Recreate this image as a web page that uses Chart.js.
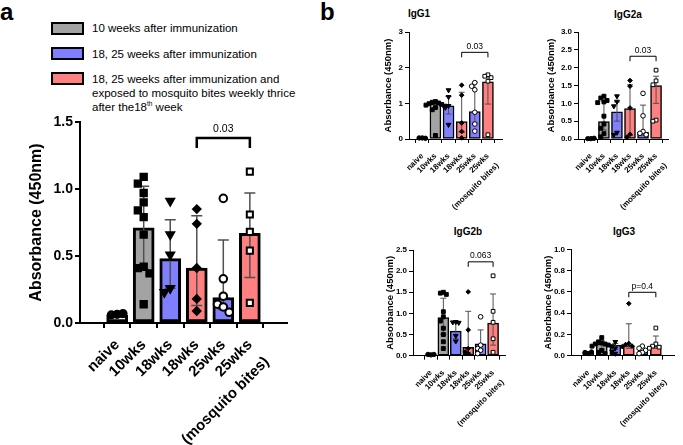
<!DOCTYPE html>
<html>
<head>
<meta charset="utf-8">
<script src="https://cdn.jsdelivr.net/npm/chart.js@4.4.1/dist/chart.umd.min.js"></script>
<style>
  body { margin: 0; background: #fff; width: 683px; height: 445px; position: relative; overflow: hidden;
         font-family: 'Liberation Sans', Arial, Helvetica, sans-serif; color: #000; }
  canvas { position: absolute; }
  .letter { position: absolute; font-size: 24px; font-weight: bold; line-height: 24px; }
  .sw { position: absolute; left: 51px; width: 29px; height: 9px; border: 2px solid #000; }
  .lt { position: absolute; left: 92px; font-size: 11.5px; line-height: 14px; white-space: nowrap; }
  .lt sup { font-size: 6.5px; line-height: 0; }
  .ttl { position: absolute; width: 80px; margin-left: -40px; text-align: center; font-size: 10px; font-weight: bold; line-height: 12px; }
</style>
</head>
<body>
<div class="letter" style="left:0;top:0">a</div>
<div class="letter" style="left:320px;top:0">b</div>

<div class="sw" style="top:22px;background:#a3a3a3"></div>
<div class="lt" style="top:21px">10 weeks after immunization</div>
<div class="sw" style="top:47px;background:#8080ff"></div>
<div class="lt" style="top:47px">18, 25 weeks after immunization</div>
<div class="sw" style="top:72px;background:#ff8080"></div>
<div class="lt" style="top:72px">18, 25 weeks after immunization and<br>exposed to mosquito bites weekly thrice<br>after the18<sup>th</sup> week</div>

<div class="ttl" style="left:419px;top:8px">IgG1</div>
<div class="ttl" style="left:628px;top:9px">IgG2a</div>
<div class="ttl" style="left:468px;top:226px">IgG2b</div>
<div class="ttl" style="left:624px;top:226px">IgG3</div>

<canvas id="chartA" width="300" height="335" style="left:0;top:110px"></canvas>
<canvas id="chartG1" width="145" height="215" style="left:370px;top:0"></canvas>
<canvas id="chartG2a" width="163" height="215" style="left:520px;top:0"></canvas>
<canvas id="chartG2b" width="150" height="230" style="left:370px;top:215px"></canvas>
<canvas id="chartG3" width="163" height="230" style="left:520px;top:215px"></canvas>

<script>
const categories = ['naive', '10wks', '18wks', '18wks', '25wks', ['25wks', '(mosquito bites)']];

// panel a
const aMeans = [0.06, 0.71, 0.48, 0.41, 0.19, 0.67];
const aLow = [0.05, 0.40, 0.26, 0.13, 0.10, 0.34];
const aHigh = [0.07, 1.02, 0.77, 0.80, 0.62, 0.97];
const aPoints = [
  [0.065, 0.06, 0.07],
  [1.09, 1.04, 0.97, 0.90, 0.84, 0.79, 0.66, 0.42, 0.41, 0.37, 0.14],
  [0.91, 0.66, 0.51, 0.26, 0.23],
  [0.85, 0.74, 0.41, 0.18, 0.09],
  [0.93, 0.33, 0.20, 0.14, 0.12, 0.08],
  [1.13, 0.81, 0.68, 0.54, 0.15]
];
const aTicks = [0, 0.5, 1.0, 1.5];

// IgG1
const g1Means = [0.03, 0.99, 0.93, 0.49, 0.77, 1.60];
const g1Low = [0.02, 0.88, 0.70, 0.19, 0.45, 0.98];
const g1High = [0.04, 1.04, 1.19, 1.31, 1.59, 1.78];
const g1Points = [
  [0.03, 0.03, 0.02],
  [1.05, 1.03, 1.01, 0.99, 0.97, 0.95, 0.92, 0.88, 0.82, 0.10],
  [1.37, 1.18, 0.93, 0.88, 0.40],
  [1.51, 1.23, 0.45, 0.21, 0.03],
  [1.58, 1.48, 1.38, 0.75, 0.42, 0.22],
  [1.80, 1.76, 1.72, 1.62, 0.12]
];
const g1Ticks = [0, 1, 2, 3];

// IgG2a
const g2aMeans = [0.01, 0.49, 0.76, 0.85, 0.19, 1.50];
const g2aLow = [0.0, 0.25, 0.50, 0.10, 0.10, 1.00];
const g2aHigh = [0.02, 1.05, 1.04, 1.52, 0.95, 1.76];
const g2aPoints = [
  [0.01, 0.01, 0.02],
  [1.20, 1.15, 1.08, 1.04, 1.02, 0.64, 0.42, 0.30, 0.15, 0.06],
  [1.20, 1.05, 0.92, 0.18, 0.12],
  [1.64, 1.48, 0.87, 0.13, 0.05],
  [1.28, 0.65, 0.21, 0.16, 0.12],
  [1.93, 1.63, 1.52, 0.53, 0.50]
];
const g2aTicks = [0, 0.5, 1.0, 1.5, 2.0, 2.5, 3.0];

// IgG2b
const g2bMeans = [0.02, 0.90, 0.58, 0.20, 0.28, 0.77];
const g2bLow = [0.01, 0.50, 0.40, 0.07, 0.15, 0.25];
const g2bHigh = [0.03, 1.36, 0.79, 1.05, 0.61, 1.46];
const g2bPoints = [
  [0.02, 0.03, 0.03],
  [1.50, 1.48, 1.45, 1.04, 0.92, 0.82, 0.65, 0.50, 0.33, 0.17],
  [0.80, 0.79, 0.78, 0.47, 0.34],
  [1.51, 0.61, 0.17, 0.09, 0.05],
  [0.92, 0.25, 0.17, 0.13, 0.05],
  [1.89, 1.05, 0.79, 0.40, 0.08]
];
const g2bTicks = [0, 0.5, 1.0, 1.5, 2.0, 2.5];

// IgG3
const g3Means = [0.03, 0.11, 0.10, 0.095, 0.035, 0.10];
const g3Low = [0.02, 0.06, 0.06, 0.07, 0.02, 0.07];
const g3High = [0.035, 0.14, 0.115, 0.30, 0.05, 0.185];
const g3Points = [
  [0.02, 0.03, 0.035],
  [0.17, 0.13, 0.12, 0.11, 0.11, 0.10, 0.09, 0.05, 0.03, 0.02],
  [0.13, 0.09, 0.07, 0.04, 0.02],
  [0.49, 0.115, 0.105, 0.09, 0.085],
  [0.09, 0.07, 0.05, 0.03, 0.02],
  [0.26, 0.11, 0.09, 0.08, 0.07]
];
const g3Ticks = [0, 0.2, 0.4, 0.6, 0.8, 1.0];

// comparison brackets: [from, to, height, label]
const aBracket = [3, 5, 1.38, '0.03'];
const g1Bracket = [3, 5, 2.43, '0.03'];
const g2aBracket = [3, 5, 2.32, '0.03'];
const g2bBracket = [3, 5, 2.22, '0.063'];
const g3Bracket = [3, 5, 0.596, 'p=0.4'];

const FONT = "'Liberation Sans', Arial, Helvetica, sans-serif";
Chart.defaults.font.family = FONT;
Chart.defaults.color = '#000';

const fills = ['#ffffff', '#a3a3a3', '#8080ff', '#ff8080', '#8080ff', '#ff8080'];
const markers = [
  { style: 'circle', rot: 0, fill: '#000', k: 1 },
  { style: 'rect', rot: 0, fill: '#000', k: 1.25 },
  { style: 'triangle', rot: 180, fill: '#000', k: 1.25 },
  { style: 'rectRot', rot: 0, fill: '#000', k: 1.05 },
  { style: 'circle', rot: 0, fill: '#fff', k: 1.05 },
  { style: 'rect', rot: 0, fill: '#fff', k: 1.2 }
];

// spread points sideways when they would overlap (like a scatter dot plot)
function spread(vals, thr, step) {
  const placed = [];
  return vals.map(v => {
    for (const k of [0, -1, 1, -2, 2, -3, 3]) {
      const dx = k * step;
      const hit = placed.some(p => Math.abs(p.dx - dx) < step * 0.9 && Math.abs(p.v - v) < thr);
      if (!hit) { placed.push({ dx, v }); return dx; }
    }
    placed.push({ dx: 0, v });
    return 0;
  });
}

function errorPlugin(p) {
  return {
    id: 'errorBars',
    afterDatasetDraw(chart, args) {
      if (args.index !== 0) return;
      const { ctx, scales: { x, y } } = chart;
      ctx.save();
      ctx.strokeStyle = '#505050';
      ctx.lineWidth = p.ew;
      p.low.forEach((lo, i) => {
        const px = x.getPixelForValue(i);
        const y1 = y.getPixelForValue(lo);
        const y2 = y.getPixelForValue(p.high[i]);
        ctx.beginPath();
        ctx.moveTo(px, y1); ctx.lineTo(px, y2);
        ctx.moveTo(px - p.cap, y1); ctx.lineTo(px + p.cap, y1);
        ctx.moveTo(px - p.cap, y2); ctx.lineTo(px + p.cap, y2);
        ctx.stroke();
      });
      ctx.restore();
    }
  };
}

function bracketPlugin(p) {
  const [from, to, level, label] = p.bracket;
  return {
    id: 'bracket',
    afterDatasetsDraw(chart) {
      const { ctx, scales: { x, y } } = chart;
      const x1 = x.getPixelForValue(from);
      const x2 = x.getPixelForValue(to);
      const yy = y.getPixelForValue(level);
      ctx.save();
      ctx.strokeStyle = '#000';
      ctx.lineWidth = p.blw;
      ctx.beginPath();
      ctx.moveTo(x1, yy + p.drop); ctx.lineTo(x1, yy); ctx.lineTo(x2, yy); ctx.lineTo(x2, yy + p.drop);
      ctx.stroke();
      ctx.fillStyle = '#000';
      ctx.font = p.bFont + 'px ' + FONT;
      ctx.textAlign = 'center';
      ctx.textBaseline = 'middle';
      ctx.fillText(label, (x1 + x2) / 2, yy - p.gap);
      ctx.restore();
    }
  };
}

function buildChart(id, p) {
  const ymax = p.ticks[p.ticks.length - 1];
  const scatter = p.points.map((vals, i) => {
    const m = markers[i];
    const dx = spread(vals, ymax * 0.045, p.dodge);
    return {
      type: 'scatter',
      data: vals.map((v, j) => ({ x: i + dx[j], y: v })),
      pointStyle: m.style,
      pointRotation: m.rot,
      pointRadius: p.mr * m.k,
      pointBackgroundColor: m.fill,
      pointBorderColor: '#000',
      pointBorderWidth: p.mw,
      order: 1,
      clip: false
    };
  });
  const axisGrid = { drawOnChartArea: false, color: '#000', lineWidth: p.aw, tickWidth: p.aw, tickColor: '#000', tickLength: p.tl };
  return new Chart(document.getElementById(id), {
    type: 'bar',
    data: {
      datasets: [{
        type: 'bar',
        data: p.means.map((v, i) => ({ x: i, y: v })),
        backgroundColor: fills,
        borderColor: '#000',
        borderWidth: p.bw,
        borderSkipped: false,
        barThickness: p.barW,
        order: 2
      }, ...scatter]
    },
    options: {
      responsive: false,
      animation: false,
      layout: { padding: p.pad },
      plugins: { legend: { display: false }, tooltip: { enabled: false } },
      scales: {
        x: {
          type: 'linear', min: p.xMin, max: p.xMax,
          afterBuildTicks: s => { s.ticks = categories.map((c, i) => ({ value: i })); },
          afterFit: s => { s.height = p.xH; },
          border: { color: '#000', width: p.aw },
          grid: axisGrid,
          ticks: {
            autoSkip: false, minRotation: 45, maxRotation: 45, padding: p.xPad,
            font: { size: p.xFont, weight: 'bold', lineHeight: p.xLh },
            callback: v => categories[v]
          }
        },
        y: {
          min: 0, max: ymax,
          afterBuildTicks: s => { s.ticks = p.ticks.map(v => ({ value: v })); },
          afterFit: s => { s.width = p.yW; },
          border: { color: '#000', width: p.aw },
          grid: axisGrid,
          ticks: { padding: 2, font: { size: p.tFont, weight: 'bold' }, callback: v => v.toFixed(p.dec) },
          title: {
            display: true, text: 'Absorbance (450nm)',
            font: { size: p.titleFont, weight: 'bold' },
            padding: { top: p.titlePad, bottom: 0 }
          }
        }
      }
    },
    plugins: [errorPlugin(p), bracketPlugin(p)]
  });
}

const bigStyle = { aw: 2, tl: 5, xPad: 6, xFont: 15, xLh: 1.6, tFont: 14, titleFont: 16, bw: 3, barW: 21,
  mr: 3.6, mw: 2, dodge: 0.22, ew: 1.5, cap: 5.5, blw: 2.5, drop: 10, bFont: 10.5, gap: 9 };
const smallStyle = { aw: 1, tl: 4, xPad: 7, xFont: 8, xLh: 1.7, tFont: 8, titleFont: 9.5, bw: 1.5, barW: 11,
  mr: 2.2, mw: 1, dodge: 0.24, ew: 1, cap: 3, blw: 1, drop: 5, bFont: 8.5, gap: 6 };

buildChart('chartA', Object.assign({}, bigStyle, {
  means: aMeans, low: aLow, high: aHigh, points: aPoints, ticks: aTicks, dec: 1, bracket: aBracket,
  pad: { left: 0, top: 12, right: 13, bottom: 0 }, yW: 80, xH: 122, xMin: -0.75, xMax: 5.75, titlePad: 27.4
}));

buildChart('chartG1', Object.assign({}, smallStyle, {
  means: g1Means, low: g1Low, high: g1High, points: g1Points, ticks: g1Ticks, dec: 0, bracket: g1Bracket,
  pad: { left: 0, top: 32, right: 5.4, bottom: 0 }, yW: 39, xH: 76, xMin: -0.42, xMax: 5.5, titlePad: 12.3
}));

buildChart('chartG2a', Object.assign({}, smallStyle, {
  means: g2aMeans, low: g2aLow, high: g2aHigh, points: g2aPoints, ticks: g2aTicks, dec: 1, bracket: g2aBracket,
  pad: { left: 0, top: 32, right: 5, bottom: 0 }, yW: 58, xH: 76, xMin: -0.41, xMax: 5.4, titlePad: 26
}));

buildChart('chartG2b', Object.assign({}, smallStyle, {
  means: g2bMeans, low: g2bLow, high: g2bHigh, points: g2bPoints, ticks: g2bTicks, dec: 1, bracket: g2bBracket,
  pad: { left: 0, top: 35, right: 3.3, bottom: 0 }, yW: 43, xH: 89.3, xMin: -0.82, xMax: 5.39, titlePad: 14.3
}));

buildChart('chartG3', Object.assign({}, smallStyle, {
  means: g3Means, low: g3Low, high: g3High, points: g3Points, ticks: g3Ticks, dec: 1, bracket: g3Bracket,
  pad: { left: 0, top: 34.3, right: 4, bottom: 0 }, yW: 51, xH: 89.3, xMin: -0.635, xMax: 5.77, titlePad: 22.3
}));
</script>
</body>
</html>
